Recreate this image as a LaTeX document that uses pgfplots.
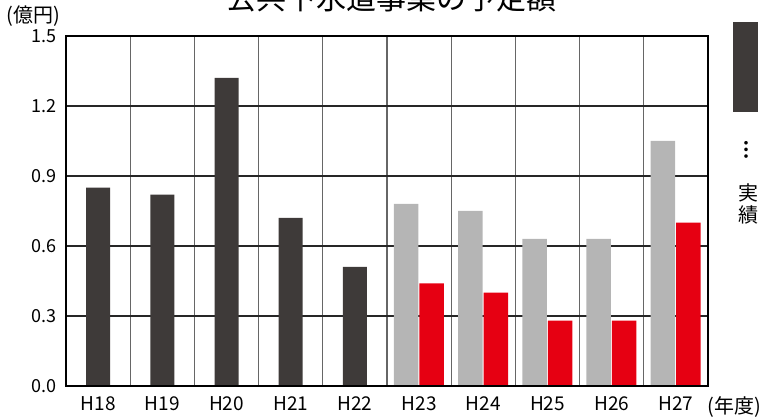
\documentclass[border=0pt]{standalone}
\usepackage{fontspec}
\setmainfont{Noto Sans CJK JP}
\usepackage{pgfplots}
\pgfplotsset{compat=1.18}
\definecolor{dk}{HTML}{3E3A39}
\definecolor{gr}{HTML}{B5B5B5}
\definecolor{rd}{HTML}{E60012}
\begin{document}
\begin{tikzpicture}[x=1pt,y=1pt]
\begin{axis}[at={(66pt,33pt)}, anchor=south west, scale only axis,
  width=642pt, height=350pt,
  xmin=-0.5, xmax=9.5, ymin=0, ymax=1.5,
  xtick={0,...,9},
  xticklabels={H18,H19,H20,H21,H22,H23,H24,H25,H26,H27},
  ytick={0,0.3,0.6,0.9,1.2,1.5},
  minor xtick={0.5,1.5,...,8.5},
  xminorgrids, ymajorgrids,
  major tick length=0pt, minor tick length=0pt,
  minor grid style={color=black!60, line width=1.1pt},
  major grid style={color=black!85, line width=1.1pt},
  axis line style={black, line width=1.1pt},
  yticklabel style={/pgf/number format/.cd, fixed, fixed zerofill, precision=1, assume math mode=true, /tikz/.cd, font=\fontsize{18}{20}\selectfont, xshift=-6pt},
  xticklabel style={font=\fontsize{19}{21}\selectfont, yshift=-7pt},
]
\addplot[ybar, fill=dk, draw=none, bar width=24pt, bar shift=0pt]
  coordinates {(0,0.85) (1,0.82) (2,1.32) (3,0.72) (4,0.51)};
\addplot[ybar, fill=gr, draw=none, bar width=24.5pt, bar shift=-13pt]
  coordinates {(5,0.78) (6,0.75) (7,0.63) (8,0.63) (9,1.05)};
\addplot[ybar, fill=rd, draw=none, bar width=24.5pt, bar shift=12.5pt]
  coordinates {(5,0.44) (6,0.40) (7,0.28) (8,0.28) (9,0.70)};
\draw[black, line width=2pt] (axis cs:-0.5,0) -- (axis cs:9.5,0);
\end{axis}
\node[anchor=base, font=\fontsize{30}{32}\selectfont] at (391,409) {公共下水道事業の予定額};
\node[font=\fontsize{20}{22}\selectfont] at (33,403) {(億円)};
\node[font=\fontsize{20}{22}\selectfont] at (734,12) {(年度)};
\fill[dk] (733,307) rectangle (758,397);
\node[font=\bfseries\fontsize{20}{22}\selectfont] at (746,269) {︙};
\node[font=\fontsize{20}{22}\selectfont] at (748,226) {実};
\node[font=\fontsize{20}{22}\selectfont] at (748,204) {績};
\pgfresetboundingbox
\useasboundingbox (0,0) rectangle (763,419);
\end{tikzpicture}
\end{document}
